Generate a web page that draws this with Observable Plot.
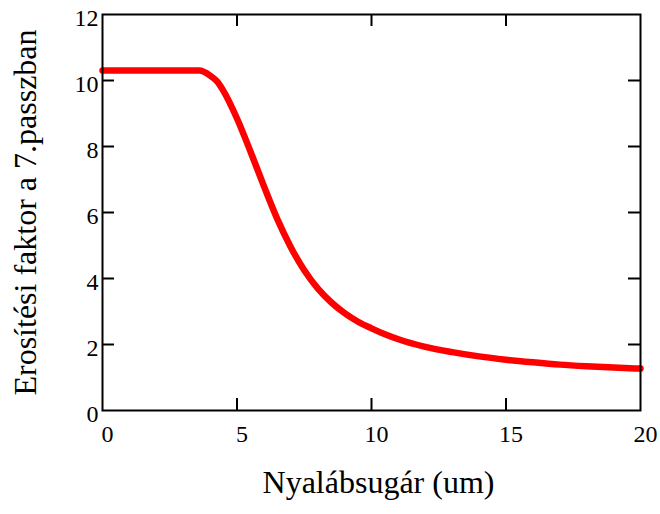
<!DOCTYPE html>
<html>
<head>
<meta charset="utf-8">
<script src="https://cdn.jsdelivr.net/npm/d3@7"></script>
<script src="https://cdn.jsdelivr.net/npm/@observablehq/plot@0.6"></script>
<style>
  html, body { margin: 0; padding: 0; background: #fff; }
  svg { display: block; }
</style>
</head>
<body>
<div id="chart"></div>
<script>
const radius = [0, 1, 2, 3, 3.6, 4.0, 4.25, 4.5, 5.0, 5.5, 6.0, 6.5, 7.0, 7.5, 8.0, 8.5, 9.0, 9.5, 10.0, 10.5, 11, 12, 13, 14, 15, 16, 17, 18, 19, 20];
const gain = [10.3, 10.3, 10.3, 10.3, 10.3, 10.15, 9.98, 9.68, 8.85, 7.85, 6.8, 5.8, 4.95, 4.25, 3.7, 3.28, 2.95, 2.69, 2.49, 2.31, 2.16, 1.93, 1.77, 1.64, 1.54, 1.46, 1.39, 1.34, 1.30, 1.27];
const xTickLabels = [0, 5, 10, 15, 20];
const yTickLabels = [0, 2, 4, 6, 8, 10, 12];
const xInnerTicks = [5, 10, 15];
const yInnerTicks = [2, 4, 6, 8, 10];
const xTitle = "Nyalábsugár (um)";
const yTitle = "Erosítési faktor a 7.passzban";

const data = radius.map((r, i) => ({r, g: gain[i]}));

const W = 660, H = 514, ML = 102, MR = 20, MT = 14, MB = 104;
const innerW = W - ML - MR, innerH = H - MT - MB, tick = 12;
const font = "'Liberation Serif', 'Times New Roman', serif";

const chart = Plot.plot({
  width: W,
  height: H,
  marginLeft: ML,
  marginRight: MR,
  marginTop: MT,
  marginBottom: MB,
  style: {fontFamily: font, background: "#fff", color: "#000"},
  x: {domain: [0, 20]},
  y: {domain: [0, 12]},
  marks: [
    Plot.axisX(xTickLabels, {tickSize: 0, tickPadding: 14, dx: 5, fontSize: 24, label: null}),
    Plot.axisY(yTickLabels, {tickSize: 0, tickPadding: 4, dy: 4, fontSize: 24, label: null}),
    Plot.tickY(yInnerTicks, {y: d => d, insetRight: innerW - tick, stroke: "#000", strokeWidth: 2}),
    Plot.tickY(yInnerTicks, {y: d => d, insetLeft: innerW - tick, stroke: "#000", strokeWidth: 2}),
    Plot.tickX(xInnerTicks, {x: d => d, insetTop: innerH - tick, stroke: "#000", strokeWidth: 2}),
    Plot.tickX(xInnerTicks, {x: d => d, insetBottom: innerH - tick, stroke: "#000", strokeWidth: 2}),
    Plot.line(data, {x: "r", y: "g", stroke: "#ff0000", strokeWidth: 6.5, curve: "monotone-x"}),
    Plot.frame({stroke: "#000", strokeWidth: 2}),
    Plot.text([xTitle], {frameAnchor: "bottom", dy: 82, dx: 7, fontSize: 32, fill: "#000"}),
    Plot.text([yTitle], {frameAnchor: "left", textAnchor: "middle", dx: -77, rotate: -90, fontSize: 32, fill: "#000"})
  ]
});
document.getElementById("chart").appendChild(chart);
</script>
</body>
</html>
